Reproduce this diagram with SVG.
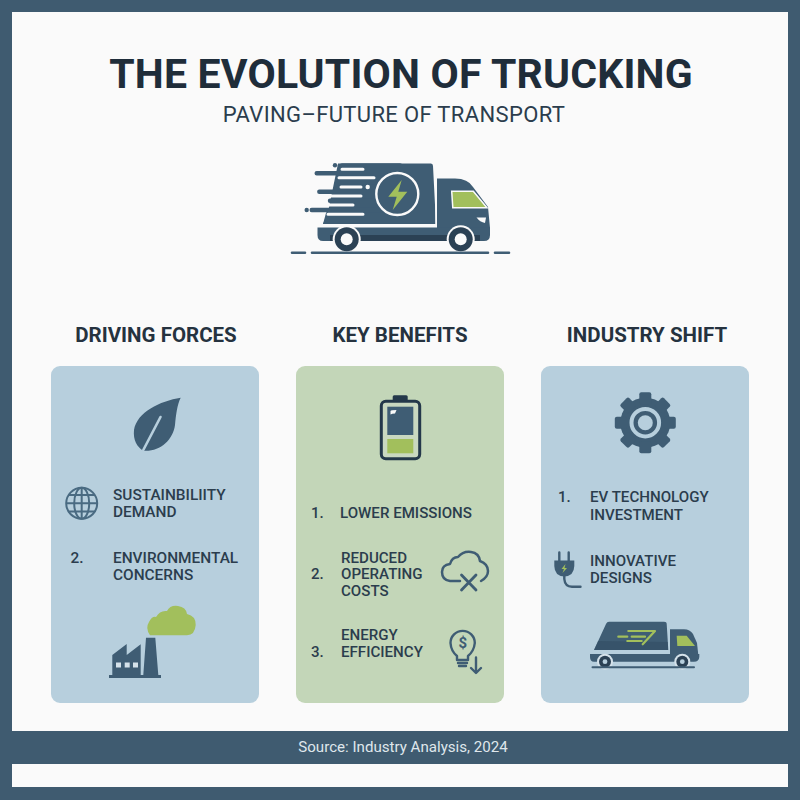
<svg xmlns="http://www.w3.org/2000/svg" width="800" height="800" viewBox="0 0 800 800">
<style>
text{font-family:Roboto,"Liberation Sans",sans-serif}
.it{font-size:15.1px;font-weight:500;fill:#2b3d4d}
.il{font-size:15.4px}
.hd{font-size:20.5px;font-weight:700;fill:#25323f;text-anchor:middle}
.d{fill:#3f5d74}
.dl{fill:none;stroke:#3f5d74;stroke-linecap:round;stroke-linejoin:round}
.g{fill:#a2bf5c}
.wl{stroke:#fafafa;stroke-width:3;stroke-linecap:round;fill:none}
.dk{stroke:#3f5d74;stroke-width:4.4;stroke-linecap:round;fill:none}
</style>
<defs>
<rect id="tooth" x="639.300" y="392.200" width="12" height="12" rx="2" class="d"/>
</defs>
<rect width="800" height="800" fill="#3f5b70"/>
<rect x="12" y="12" width="776" height="719" fill="#fafafa"/>
<rect x="12" y="764" width="776" height="23" fill="#fafafa"/>
<g id="header">
<text x="401" y="88" font-size="41" font-weight="700" letter-spacing="0.18" text-anchor="middle" fill="#1f2d3a">THE EVOLUTION OF TRUCKING</text>
<text x="394" y="122" font-size="22" letter-spacing="0.35" text-anchor="middle" fill="#2b3d4d">PAVING–FUTURE OF TRANSPORT</text>
</g>
<g id="hero-truck">
<path class="d" d="M338 163.500H431Q433 163.500 433 166L436 224H323L328 212Z"/>
<path class="d" d="M437 178.500H455Q468 178.500 473 187L488 207L490 228H437Z"/>
<path class="d" d="M317.500 227.500H490V235Q490 241 484 241H323Q317.500 241 317.500 235Z"/>
<path d="M330 235H480V241H330Z" fill="#2b4154"/>
<path d="M451.700 191.200H473.300L487 207.800H452.800Z" class="g" stroke="#fafafa" stroke-width="1.500"/>
<path d="M476.500 217.500H486L485 223Q480 222 476.500 217.500Z" fill="#fafafa"/>
<path d="M322 225.600H437" stroke="#fafafa" stroke-width="2.400"/>
<path d="M436 178V227" stroke="#fafafa" stroke-width="1.600"/>
<path d="M300 160H330L320 224H300Z" fill="#fafafa"/>
<g class="dk">
<path d="M342 165.500H400M316.700 173.300H400M340 182.300H400M319.300 191.700H400M330 200.700H400M311.700 210H400"/>
</g>
<circle cx="335" cy="165.300" r="2.200" class="d"/>
<circle cx="306.700" cy="210" r="2.200" class="d"/>
<path class="d" d="M330 207H345V224H323L326 213Z"/>
<g class="wl">
<path d="M342 169.300H363M339 177.700H374M341 187H361M321 196H361M321 205H353M328 214.300H363"/>
</g>
<circle cx="367.700" cy="187" r="2.200" fill="#fafafa"/>
<circle cx="397.300" cy="194" r="21" fill="#3f5d74" stroke="#fafafa" stroke-width="2.400"/>
<path class="g" d="M401.700 180L388.300 196.700H396.700L392.700 210L407.300 191.700H398.300Z"/>
<circle cx="346.700" cy="239.300" r="14" fill="#fafafa"/><circle cx="346.700" cy="239.300" r="12" fill="#2b4154"/><circle cx="346.700" cy="239.300" r="6" fill="#fafafa"/>
<circle cx="460.700" cy="239.300" r="14" fill="#fafafa"/><circle cx="460.700" cy="239.300" r="12" fill="#2b4154"/><circle cx="460.700" cy="239.300" r="6" fill="#fafafa"/>
<path class="dl" stroke-width="2.600" d="M292 252.700H305M312 252.700H488M495 252.700H509"/>
</g>
<g id="panel-driving-forces">
<text class="hd" x="156" y="342">DRIVING FORCES</text>
<rect x="51" y="366" width="208" height="337" rx="9" fill="#b7cfdd"/>
<path class="d" d="M180.700 397.700C160 401 137 412 134 430C133 440 137 447 143.300 450.700C160 452 173 440 175 425C176 415 177 405 180.700 397.700Z"/>
<path d="M143.300 450L160.500 417" stroke="#b7cfdd" stroke-width="2.600" stroke-linecap="round" fill="none"/>
<g fill="none" stroke="#4a6b82" stroke-width="2">
<circle cx="81.700" cy="503.300" r="15.500"/><ellipse cx="81.700" cy="503.300" rx="7.500" ry="15.500"/>
<path d="M81.700 488V519M66.200 503.300H97.200M68.500 495H95M68.500 511.500H95"/>
</g>
<text class="it il" x="113" y="499.700">SUSTAINBILIITY</text>
<text class="it il" x="113" y="516.700">DEMAND</text>
<text class="it il" x="70.500" y="562.700">2.</text>
<text class="it il" x="113" y="562.500">ENVIRONMENTAL</text>
<text class="it il" x="113" y="579.500">CONCERNS</text>
<path class="g" d="M150 635.300Q145 628 149 622Q152 616 156 617Q160 610 167 611Q170 605 178 606Q186 607 187 614Q196 616 195.700 625Q195 635 187 635.300Z"/>
<path class="d" d="M146 637.700H155.300L158.300 675H161V678H109V675H112.300V655L126.700 644V655L140.700 644.300V675H143.300Z"/>
<g fill="#d5e2ea"><rect x="116" y="662.500" width="5" height="5"/><rect x="124.700" y="662.500" width="5" height="5"/><rect x="133" y="662.500" width="5" height="5"/></g>
</g>
<g id="panel-key-benefits">
<text class="hd" x="400" y="342">KEY BENEFITS</text>
<rect x="296" y="366" width="208" height="337" rx="9" fill="#c3d6b8"/>
<rect x="392.700" y="395.300" width="15" height="6" rx="1.500" fill="#24384a"/>
<rect x="381.300" y="401.200" width="38.400" height="57.600" rx="4.500" fill="#c9d8c0" stroke="#24384a" stroke-width="3"/>
<rect x="387.300" y="406.700" width="26" height="28.300" class="d"/>
<rect x="387.300" y="439" width="26" height="14.300" class="g"/>
<path d="M390.500 411Q391 410 396.500 410L395 413.500Q392 413.500 390.500 414.500Z" fill="#fafafa"/>
<text class="it" x="311" y="517.700">1.</text>
<text class="it" x="340" y="517.700">LOWER EMISSIONS</text>
<text class="it" x="341" y="562.700">REDUCED</text>
<text class="it" x="341" y="579.300">OPERATING</text>
<text class="it" x="341" y="596">COSTS</text>
<text class="it" x="311" y="579.300">2.</text>
<text class="it" x="341" y="640">ENERGY</text>
<text class="it" x="341" y="656.700">EFFICIENCY</text>
<text class="it" x="311" y="656.700">3.</text>
<path class="dl" stroke-width="2.500" d="M460 581H450Q442 580 442 572Q442 565 450 564Q452 557 458 557Q463 551 471 552Q479 553 480 561Q488 564 488 571Q488 577 481 581"/>
<path class="dl" stroke-width="2.800" d="M461.500 575L476 590M476 575L461.500 590"/>
<g class="dl" stroke-width="2.400">
<path d="M457 660V656Q451 651 450.500 643A12 12 0 1 1 474.800 643Q474 651 468 656V660Z"/>
<path d="M458 663H467M459 666H466"/>
<path stroke-width="2.400" d="M476 657.500V672.500M471 668L476 673L481 668"/>
</g>
<text x="462.700" y="648" font-size="15" font-weight="700" text-anchor="middle" fill="#3f5d74">$</text>
</g>
<g id="panel-industry-shift">
<text class="hd" x="647" y="342">INDUSTRY SHIFT</text>
<rect x="541" y="366" width="208" height="337" rx="9" fill="#b7cfdd"/>
<circle cx="645.300" cy="422.700" r="25" class="d"/>
<use href="#tooth"/>
<use href="#tooth" transform="rotate(45 645.300 422.700)"/>
<use href="#tooth" transform="rotate(90 645.300 422.700)"/>
<use href="#tooth" transform="rotate(135 645.300 422.700)"/>
<use href="#tooth" transform="rotate(180 645.300 422.700)"/>
<use href="#tooth" transform="rotate(225 645.300 422.700)"/>
<use href="#tooth" transform="rotate(270 645.300 422.700)"/>
<use href="#tooth" transform="rotate(315 645.300 422.700)"/>
<circle cx="645.300" cy="422.700" r="13.800" fill="none" stroke="#b7cfdd" stroke-width="4"/>
<circle cx="645.300" cy="422.700" r="7.500" fill="#b7cfdd"/>
<text class="it" x="558" y="502.200">1.</text>
<text class="it" x="590" y="502.200">EV TECHNOLOGY</text>
<text class="it" x="590" y="519.500">INVESTMENT</text>
<text class="it" x="590" y="566">INNOVATIVE</text>
<text class="it" x="590" y="582.700">DESIGNS</text>
<path class="dl" stroke-width="2.400" d="M559.300 552.500V561M568.700 552.500V561"/>
<path class="d" d="M554.300 560.500H574.300V566Q574 576 564.300 576.500Q554.500 576 554.300 566Z"/>
<path class="dl" stroke-width="2.400" d="M564.300 576V579Q565 586.700 572 586.700H580.500"/>
<path class="g" d="M565.500 564L561.500 569H564L562.500 573L567 568H564.500Z"/>
<path class="d" d="M609 621.700H664Q666.700 621.700 666.700 624L668.300 650H594L606 624Q607 621.700 609 621.700Z"/>
<path d="M594 650L598 641L668 642V650Z" fill="#2f4a5f" opacity=".5"/>
<path class="d" d="M670 629.300H684Q690 629.300 693 634L697 643L698.300 655H670Z"/>
<path d="M590 654H699.300V657Q699 661.700 694 661.700H594Q590 661.700 590 657Z" class="d"/>
<path d="M676.700 635.700H686.700L695 646H677.300Z" class="g"/>
<circle cx="605" cy="661.700" r="8" fill="#d5e2ea"/><circle cx="605" cy="661.700" r="6" fill="#2b4154"/><circle cx="605" cy="661.700" r="2.400" fill="#b7cfdd"/>
<circle cx="682.300" cy="661.700" r="8" fill="#d5e2ea"/><circle cx="682.300" cy="661.700" r="6" fill="#2b4154"/><circle cx="682.300" cy="661.700" r="2.400" fill="#b7cfdd"/>
<path class="dl" stroke-width="2" d="M592.500 667.300H694"/>
<path d="M628.300 631H655L642.700 644.300M618.300 636.700H627.300M631.700 636.700H645M627.300 641H641.700" fill="none" stroke="#a2bf5c" stroke-width="2.200" stroke-linecap="round" stroke-linejoin="round"/>
</g>
<g id="footer">
<text x="403" y="752" font-size="15.100" text-anchor="middle" fill="#dfe7ec">Source: Industry Analysis, 2024</text>
</g>
</svg>
